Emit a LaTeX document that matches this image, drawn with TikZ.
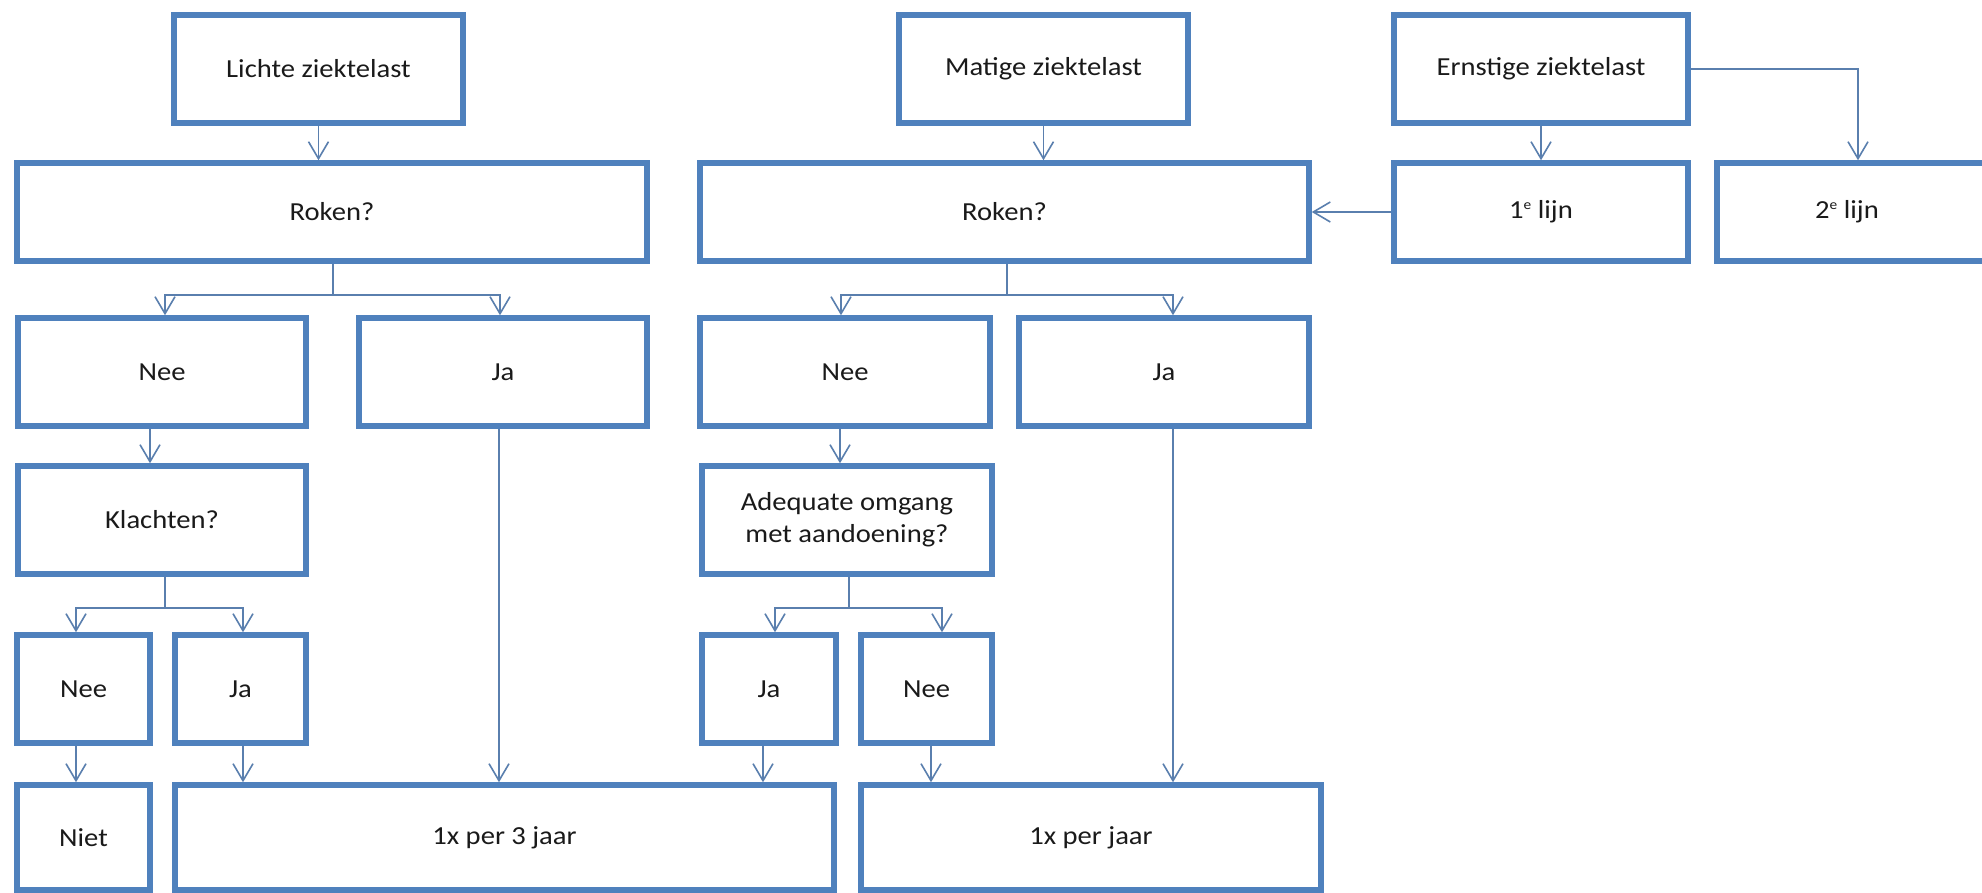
\documentclass[tikz,border=0pt]{standalone}
\usepackage{fontspec}
\setmainfont{Carlito}[FakeStretch=1.1]
\usetikzlibrary{arrows.meta}
\definecolor{boxblue}{HTML}{4F81BD}
\definecolor{linkblue}{HTML}{5A7FAE}
\definecolor{txt}{HTML}{1A1A1A}
\newcommand{\supe}{\raisebox{0.75ex}{\fontsize{14}{14}\selectfont e}}
\tikzset{
  box/.style={draw=boxblue, line width=5.5pt, fill=white, rectangle, inner sep=0pt,
    text=txt, font=\fontsize{26}{32}\selectfont, align=center},
  arr/.style={draw=linkblue, line width=1.6pt, -{Straight Barb[length=17pt,width=20pt,line width=1.6pt]}},
  link/.style={draw=linkblue, line width=1.6pt}
}
\begin{document}
\begin{tikzpicture}[x=1pt,y=-1pt]
\useasboundingbox[fill=white] (0,0) rectangle (1982,893);
% row 1
\node[box, minimum width=289, minimum height=108] (lichte) at (318.5,69) {Lichte ziektelast};
\node[box, minimum width=289, minimum height=108] (matige) at (1043.5,69) {Matige ziektelast};
\node[box, minimum width=294, minimum height=108] (ernst) at (1541,69) {Ernstige ziektelast};
% row 2
\node[box, minimum width=630, minimum height=98] (rokenL) at (332,212) {Roken?};
\node[box, minimum width=609, minimum height=98] (rokenM) at (1004.5,212) {Roken?};
\node[box, minimum width=294, minimum height=98] (lijn1) at (1541,212) {1\supe\ lijn};
\node[box, minimum width=286, minimum height=98] (lijn2) at (1860,212) {2\supe\ lijn\hspace*{26pt}};
% row 3
\node[box, minimum width=288, minimum height=108] (neeL) at (162,372) {Nee};
\node[box, minimum width=288, minimum height=108] (jaL) at (503,372) {Ja};
\node[box, minimum width=290, minimum height=108] (neeM) at (845,372) {Nee};
\node[box, minimum width=290, minimum height=108] (jaM) at (1164,372) {Ja};
% row 4
\node[box, minimum width=288, minimum height=108] (klacht) at (162,520) {Klachten?};
\node[box, minimum width=290, minimum height=108] (adeq) at (847,520) {Adequate omgang\\met aandoening?};
% row 5
\node[box, minimum width=133, minimum height=108] (neeS) at (83.5,689) {Nee};
\node[box, minimum width=131, minimum height=108] (jaS) at (240.5,689) {Ja};
\node[box, minimum width=134, minimum height=108] (jaS2) at (769,689) {Ja};
\node[box, minimum width=131, minimum height=108] (neeS2) at (926.5,689) {Nee};
% row 6
\node[box, minimum width=133, minimum height=105] (niet) at (83.5,837.5) {Niet};
\node[box, minimum width=659, minimum height=105] (drie) at (504.5,837.5) {1x per 3 jaar};
\node[box, minimum width=460, minimum height=105] (jaar) at (1091,837.5) {1x per jaar};

% connectors top
\draw[arr] (lichte.south) -- (lichte.south |- rokenL.north);
\draw[arr] (matige.south) -- (matige.south |- rokenM.north);
\draw[arr] (ernst.south) -- (ernst.south |- lijn1.north);
\draw[arr] (ernst.east) -| ([xshift=-2pt]lijn2.north);
\draw[arr] (lijn1.west) -- (rokenM.east);

% Roken L split
\coordinate (sL) at (333,295);
\draw[link] (rokenL.south -| sL) -- (sL);
\draw[arr] (sL) -| ([xshift=3pt]neeL.north);
\draw[arr] (sL) -| ([xshift=-3pt]jaL.north);
% Roken M split
\coordinate (sM) at (1007,295);
\draw[link] (rokenM.south -| sM) -- (sM);
\draw[arr] (sM) -| ([xshift=-4pt]neeM.north);
\draw[arr] (sM) -| ([xshift=9pt]jaM.north);

% Nee -> Klachten / Adequate
\draw[arr] ([xshift=-12pt]neeL.south) -- ([xshift=-12pt]neeL.south |- klacht.north);
\draw[arr] ([xshift=-5pt]neeM.south) -- ([xshift=-5pt]neeM.south |- adeq.north);

% Klachten split
\coordinate (sK) at (165,608);
\draw[link] (klacht.south -| sK) -- (sK);
\draw[arr] (sK) -| ([xshift=-7.5pt]neeS.north);
\draw[arr] (sK) -| ([xshift=2.5pt]jaS.north);
% Adequate split
\coordinate (sA) at (849,608);
\draw[link] (adeq.south -| sA) -- (sA);
\draw[arr] (sA) -| ([xshift=6pt]jaS2.north);
\draw[arr] (sA) -| ([xshift=15.5pt]neeS2.north);

% to bottom row
\draw[arr] ([xshift=-7.5pt]neeS.south) -- ([xshift=-7.5pt]neeS.south |- niet.north);
\draw[arr] ([xshift=2.5pt]jaS.south) -- ([xshift=2.5pt]jaS.south |- drie.north);
\draw[arr] ([xshift=-4pt]jaL.south) -- ([xshift=-4pt]jaL.south |- drie.north);
\draw[arr] ([xshift=-6pt]jaS2.south) -- ([xshift=-6pt]jaS2.south |- drie.north);
\draw[arr] ([xshift=4.5pt]neeS2.south) -- ([xshift=4.5pt]neeS2.south |- jaar.north);
\draw[arr] ([xshift=9pt]jaM.south) -- ([xshift=9pt]jaM.south |- jaar.north);
\end{tikzpicture}
\end{document}
